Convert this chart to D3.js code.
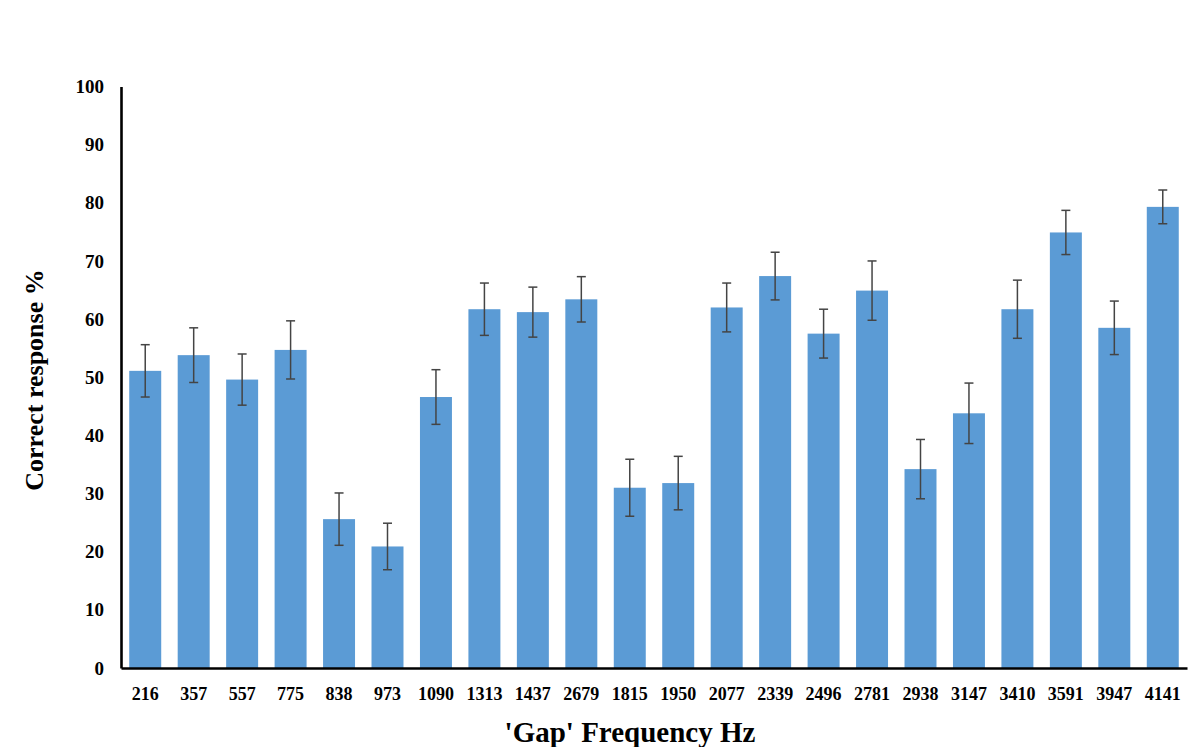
<!DOCTYPE html>
<html>
<head>
<meta charset="utf-8">
<script src="https://cdn.jsdelivr.net/npm/d3@7"></script>
<style>
  html, body { margin: 0; padding: 0; background: #fff; }
  svg { display: block; }
</style>
</head>
<body>
<svg id="chart" width="1200" height="747"></svg>
<script>
// Gap frequencies (Hz), in the order presented
const categories = ["216","357","557","775","838","973","1090","1313","1437","2679","1815",
  "1950","2077","2339","2496","2781","2938","3147","3410","3591","3947","4141"];
// Mean correct response (%)
const means = [51.1, 53.8, 49.6, 54.7, 25.6, 20.9, 46.6, 61.7, 61.2, 63.4, 31.0,
  31.8, 62.0, 67.4, 57.5, 64.9, 34.2, 43.8, 61.7, 74.9, 58.5, 79.3];
// Error (± half-length of each error bar)
const errors = [4.5, 4.7, 4.4, 5.0, 4.5, 4.0, 4.7, 4.5, 4.3, 3.9, 4.9,
  4.6, 4.2, 4.1, 4.2, 5.1, 5.1, 5.2, 5.0, 3.8, 4.6, 2.9];
const yTicks = [0, 10, 20, 30, 40, 50, 60, 70, 80, 90, 100];

const svg = d3.select("#chart");
const plotLeft = 121, plotRight = 1187, plotTop = 87, plotBottom = 668;

const x = d3.scaleBand().domain(categories).range([plotLeft, plotRight]).paddingInner(0.34).paddingOuter(0.17);
const y = d3.scaleLinear().domain([0, 100]).range([plotBottom, plotTop - 0.5]);

const serif = "'Liberation Serif', 'Times New Roman', serif";

// bars
svg.append("g").selectAll("rect").data(categories).join("rect")
  .attr("x", d => x(d))
  .attr("width", x.bandwidth())
  .attr("y", (d, i) => y(means[i]))
  .attr("height", (d, i) => y(0) - y(means[i]))
  .attr("fill", "#5B9BD5");

// error bars
const eb = svg.append("g").attr("stroke", "#444").attr("stroke-width", 1.5);
categories.forEach((c, i) => {
  const cx = x(c) + x.bandwidth() / 2;
  const hi = y(means[i] + errors[i]), lo = y(means[i] - errors[i]);
  eb.append("line").attr("x1", cx).attr("x2", cx).attr("y1", hi).attr("y2", lo);
  eb.append("line").attr("x1", cx - 4.5).attr("x2", cx + 4.5).attr("y1", hi).attr("y2", hi);
  eb.append("line").attr("x1", cx - 4.5).attr("x2", cx + 4.5).attr("y1", lo).attr("y2", lo);
});

// y axis
const yAxis = svg.append("g").attr("transform", `translate(${plotLeft},0)`)
  .call(d3.axisLeft(y).tickValues(yTicks).tickSize(0).tickPadding(17));
yAxis.select(".domain").attr("stroke", "#000").attr("stroke-width", 2.6);
yAxis.selectAll("text").attr("font-family", serif).attr("font-weight", "bold")
  .attr("font-size", 19).attr("fill", "#000");

// x axis
const xAxis = svg.append("g").attr("transform", `translate(0,${plotBottom})`)
  .call(d3.axisBottom(x).tickSize(0).tickPadding(19));
xAxis.select(".domain").attr("stroke", "#000").attr("stroke-width", 2.6);
xAxis.selectAll("text").attr("font-family", serif).attr("font-weight", "bold")
  .attr("font-size", 18).attr("fill", "#000");

// axis titles
svg.append("text")
  .attr("transform", "translate(43,380) rotate(-90)")
  .attr("text-anchor", "middle")
  .attr("font-family", serif).attr("font-weight", "bold").attr("font-size", 26)
  .text("Correct response %");

svg.append("text")
  .attr("x", 630).attr("y", 742)
  .attr("text-anchor", "middle")
  .attr("font-family", serif).attr("font-weight", "bold").attr("font-size", 29)
  .text("'Gap' Frequency Hz");
</script>
</body>
</html>
